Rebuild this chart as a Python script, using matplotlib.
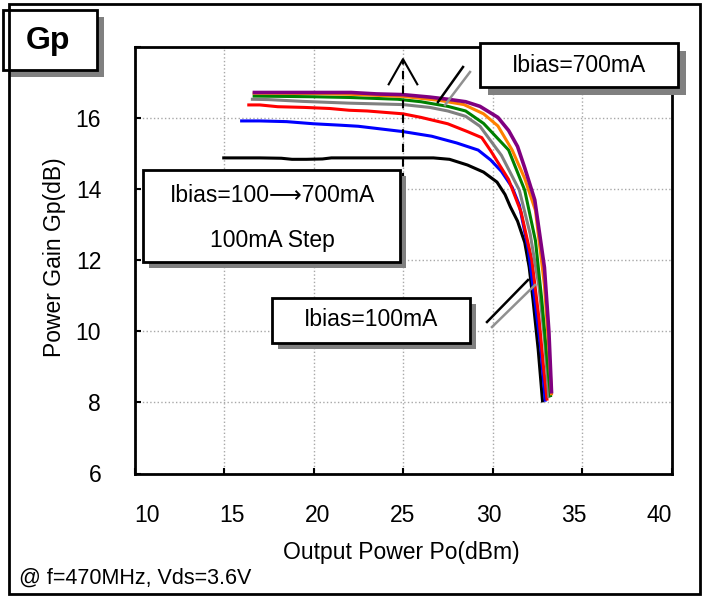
import matplotlib
matplotlib.use("Agg")
import matplotlib.pyplot as plt
from matplotlib.patches import Rectangle
from matplotlib.lines import Line2D
import matplotlib.transforms as mtransforms

plt.rcParams['font.family'] = ['Liberation Sans', 'DejaVu Sans']

# ---- data (Output power dBm, Gain dB) ----
po_100 = [14.9, 16.0, 17.0, 18.2, 18.8, 19.6, 20.5, 21.0, 22.0, 24.0, 26.0, 26.7, 27.6, 28.6, 29.5, 30.25, 30.7, 31.0, 31.4, 31.8, 32.05, 32.26, 32.55, 32.8]
gp_100 = [14.88, 14.88, 14.88, 14.87, 14.84, 14.84, 14.85, 14.88, 14.88, 14.88, 14.88, 14.88, 14.84, 14.68, 14.48, 14.2, 13.85, 13.5, 13.1, 12.5, 11.8, 10.9, 9.5, 8.0]

po_200 = [15.9, 17.0, 18.5, 20.0, 21.5, 22.5, 24.0, 25.0, 26.6, 28.0, 29.2, 29.9, 30.5, 31.1, 31.5, 32.0, 32.36, 32.7, 32.95]
gp_200 = [15.92, 15.92, 15.9, 15.84, 15.8, 15.77, 15.68, 15.62, 15.49, 15.3, 15.1, 14.82, 14.5, 14.05, 13.55, 12.3, 10.9, 9.5, 8.02]

po_300 = [16.3, 17.0, 18.0, 19.5, 20.9, 22.0, 23.0, 25.0, 26.0, 27.5, 28.6, 29.4, 29.9, 30.9, 31.6, 32.2, 32.6, 32.85, 33.05]
gp_300 = [16.37, 16.37, 16.32, 16.3, 16.27, 16.22, 16.2, 16.12, 16.02, 15.84, 15.62, 15.45, 15.08, 14.27, 13.35, 12.0, 10.35, 9.0, 8.05]

po_400 = [16.5, 17.5, 19.4, 22.0, 25.0, 26.5, 27.5, 28.5, 29.3, 30.5, 31.5, 32.1, 32.6, 32.9, 33.15]
gp_400 = [16.53, 16.52, 16.47, 16.42, 16.38, 16.3, 16.2, 16.05, 15.77, 14.95, 13.97, 12.75, 11.25, 9.8, 8.12]

po_500 = [16.6, 20.0, 22.0, 24.7, 26.0, 27.5, 28.5, 29.5, 30.9, 31.8, 32.4, 32.75, 33.0, 33.25]
gp_500 = [16.62, 16.6, 16.58, 16.53, 16.46, 16.33, 16.2, 15.85, 15.1, 13.97, 12.55, 10.9, 9.5, 8.15]

po_600 = [16.6, 20.0, 22.0, 25.0, 27.0, 28.4, 29.5, 30.3, 31.1, 31.8, 32.4, 32.9, 33.15, 33.3]
gp_600 = [16.7, 16.69, 16.67, 16.61, 16.5, 16.38, 16.12, 15.78, 15.1, 14.3, 13.4, 11.3, 9.5, 8.2]

po_700 = [16.6, 20.0, 22.1, 23.5, 25.0, 26.5, 27.5, 28.5, 29.3, 30.3, 30.9, 31.4, 31.8, 32.36, 32.9, 33.15, 33.3]
gp_700 = [16.72, 16.72, 16.72, 16.68, 16.66, 16.59, 16.53, 16.46, 16.33, 16.02, 15.65, 15.2, 14.6, 13.7, 11.8, 10.0, 8.25]

series = [(po_100, gp_100, '#000000'), (po_200, gp_200, '#0000ff'),
          (po_300, gp_300, '#ff0000'), (po_400, gp_400, '#808080'),
          (po_500, gp_500, '#008000'), (po_600, gp_600, '#ff8000'),
          (po_700, gp_700, '#800080')]

xticks = [10, 15, 20, 25, 30, 35, 40]
yticks = [6, 8, 10, 12, 14, 16, 18]

W, H = 705, 599
fig = plt.figure(figsize=(W / 100, H / 100), dpi=100)
ax_l, ax_r, ax_t, ax_b = 134.5, 671.5, 47, 473.5
ax = fig.add_axes([ax_l / W, 1 - ax_b / H, (ax_r - ax_l) / W, (ax_b - ax_t) / H])

for i, (x, y, c) in enumerate(series):
    ax.plot(x, y, color=c, lw=2.6 if i == 6 else 2.2, zorder=3 + i,
            solid_joinstyle='round', solid_capstyle='butt')

ax.set_xlim(10, 40)
ax.set_ylim(6, 18)
ax.set_xticks(xticks)
ax.set_yticks(yticks)
ax.grid(True, color='#a8a8a8', linestyle=':', linewidth=1.0)
ax.tick_params(direction='in', length=4, width=1.5, labelsize=16.5)
ax.tick_params(axis='x', pad=22)
ax.tick_params(axis='y', pad=24)
for s in ax.spines.values():
    s.set_linewidth(2)

# x tick labels are drawn slightly compressed toward the centre in the reference
cx = (ax_l + ax_r) / 2
for v, lab in zip(xticks, ax.get_xticklabels()):
    px = ax_l + (v - 10) / 30 * (ax_r - ax_l)
    dx = (cx + (px - cx) * 0.955) - px
    lab.set_transform(lab.get_transform() + mtransforms.ScaledTranslation(dx / 100, 0, fig.dpi_scale_trans))

# dashed arrow (increasing bias)
ax.plot([25, 25], [13.0, 17.6], color='k', ls=(0, (4, 3)), lw=1.5, zorder=10)
ax.plot([24.2, 25, 25.8], [16.95, 17.66, 16.95], color='k', lw=1.5, zorder=10)

def fx(px):
    return px / W

def fy(py):
    return 1 - py / H

def box(x0, y0, x1, y1, off=7):
    fig.add_artist(Rectangle((fx(x0 + off), fy(y1 + off)), (x1 - x0) / W, (y1 - y0) / H,
                             transform=fig.transFigure, facecolor='#808080',
                             edgecolor='none', zorder=20))
    fig.add_artist(Rectangle((fx(x0), fy(y1)), (x1 - x0) / W, (y1 - y0) / H,
                             transform=fig.transFigure, facecolor='white',
                             edgecolor='black', lw=2, zorder=21))

def line(xs, ys, color, lw=1.8):
    fig.add_artist(Line2D([fx(v) for v in xs], [fy(v) for v in ys],
                          transform=fig.transFigure, color=color, lw=lw, zorder=19))

# outer frame
fig.add_artist(Rectangle((fx(9), fy(594)), (700 - 9) / W, (594 - 4) / H,
                         transform=fig.transFigure, facecolor='none',
                         edgecolor='black', lw=2, zorder=30))

# leader lines
line([463, 438], [67, 102], 'black')
line([470, 445], [72, 105], '#909090')
line([487, 528], [322, 280], 'black')
line([492, 535], [327, 285], '#909090')

box(3, 10, 97, 70, off=7)
fig.text(fx(48), fy(41), 'Gp', fontsize=23, fontweight='bold', ha='center', va='center', zorder=22)

box(480, 43, 678, 87, off=8)
fig.text(fx(579), fy(65), 'Ibias=700mA', fontsize=16.5, ha='center', va='center', zorder=22)

box(143, 170, 400, 262, off=6)
fig.text(fx(272), fy(196), 'Ibias=100\u27f6700mA', fontsize=16.5, ha='center', va='center', zorder=22)
fig.text(fx(272), fy(240), '100mA Step', fontsize=16.5, ha='center', va='center', zorder=22)

box(272, 298, 470, 343, off=6)
fig.text(fx(371), fy(320), 'Ibias=100mA', fontsize=16.5, ha='center', va='center', zorder=22)

fig.text(fx(55), fy(257), 'Power Gain Gp(dB)', fontsize=16.5, rotation=90, ha='center', va='center')
fig.text(fx(401), fy(552), 'Output Power Po(dBm)', fontsize=16.5, ha='center', va='center')
fig.text(fx(19), fy(578), '@ f=470MHz, Vds=3.6V', fontsize=15.5, ha='left', va='center')

fig.savefig('out.png', dpi=100)
